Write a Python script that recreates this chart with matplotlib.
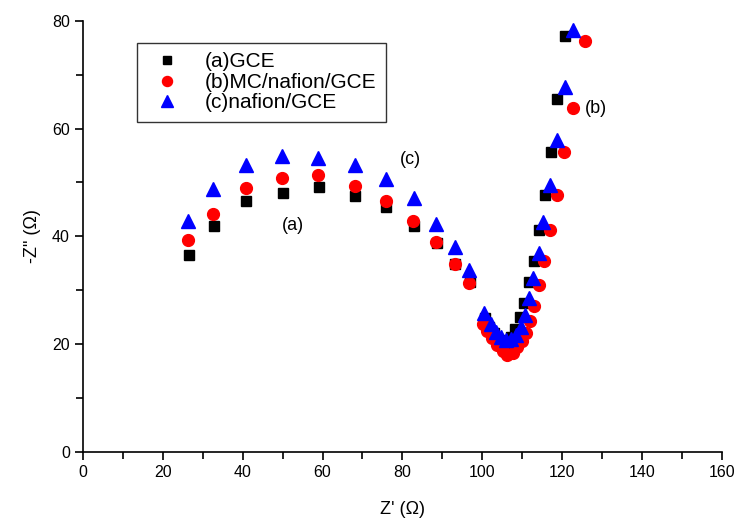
import matplotlib
matplotlib.use("Agg")
import matplotlib.pyplot as plt
from matplotlib.ticker import MultipleLocator

plt.rcParams['font.family'] = ['Liberation Sans', 'DejaVu Sans']

# (a) GCE
x_a = [26.5, 32.75, 40.75, 50.1, 59.0, 68.2, 76.0, 83.0, 88.6, 93.25, 96.9,
       100.75, 101.75, 103.0, 104.25, 105.5, 106.75, 107.3, 108.3, 109.4, 110.5,
       111.6, 113.0, 114.25, 115.6, 117.1, 118.8, 120.75]
y_a = [36.6, 41.9, 46.5, 48.1, 49.2, 47.5, 45.4, 41.9, 38.7, 34.9, 31.6,
       24.8, 23.2, 22.0, 20.8, 19.9, 19.9, 21.3, 22.8, 25.0, 27.7,
       31.5, 35.5, 41.2, 47.7, 55.6, 65.5, 77.2]

# (b) MC/nafion/GCE
x_b = [26.3, 32.6, 40.7, 49.9, 58.8, 68.2, 75.9, 82.75, 88.4, 93.25, 96.75,
       100.1, 101.3, 102.5, 103.75, 105.1, 106.3, 107.6, 108.8, 109.9, 110.9,
       111.9, 112.9, 114.25, 115.5, 117.0, 118.8, 120.4, 122.75, 125.75]
y_b = [39.3, 44.2, 48.9, 50.9, 51.3, 49.4, 46.6, 42.9, 39.0, 34.8, 31.3,
       23.7, 22.4, 21.2, 19.9, 18.7, 18.0, 18.3, 19.4, 20.6, 22.0,
       24.3, 27.0, 31.0, 35.5, 41.1, 47.7, 55.6, 63.9, 76.3]

# (c) nafion/GCE
x_c = [26.3, 32.6, 40.7, 49.9, 58.8, 68.2, 75.9, 82.9, 88.5, 93.2, 96.75,
       100.5, 102.2, 103.4, 104.7, 105.9, 107.2, 108.4, 109.6, 110.7, 111.75,
       112.8, 114.25, 115.3, 117.0, 118.8, 120.75, 122.75]
y_c = [42.9, 48.7, 53.2, 55.0, 54.6, 53.2, 50.7, 47.1, 42.3, 38.0, 33.8,
       25.7, 23.7, 22.3, 21.4, 20.8, 20.9, 21.7, 23.2, 25.4, 28.5,
       32.2, 36.9, 42.7, 49.5, 57.9, 67.8, 78.3]

labels = ['(a)GCE', '(b)MC/nafion/GCE', '(c)nafion/GCE']

fig = plt.figure(figsize=(7.38, 5.2), dpi=100)
ax = fig.add_axes([0.1125, 0.131, 0.8655, 0.829])

ax.plot(x_a, y_a, 's', color='black', markersize=7.5, label=labels[0], zorder=3)
ax.plot(x_b, y_b, 'o', color='red', markersize=8.5, label=labels[1], zorder=4)
ax.plot(x_c, y_c, '^', color='blue', markersize=9.5, label=labels[2], zorder=5)

ax.set_xlim(0, 160)
ax.set_ylim(0, 80)
ax.xaxis.set_major_locator(MultipleLocator(20))
ax.xaxis.set_minor_locator(MultipleLocator(10))
ax.yaxis.set_major_locator(MultipleLocator(20))
ax.yaxis.set_minor_locator(MultipleLocator(10))
ax.tick_params(which='major', direction='out', length=6, width=1.2, labelsize=11.5)
ax.tick_params(which='minor', direction='out', length=5, width=1.2)

ax.spines['top'].set_visible(False)
ax.spines['right'].set_visible(False)
ax.spines['left'].set_linewidth(1.2)
ax.spines['bottom'].set_linewidth(1.2)

ax.set_xlabel("Z' (\u03a9)", fontsize=13, labelpad=15)
ax.set_ylabel('-Z" (\u03a9)', fontsize=13, labelpad=8)

ax.text(52.5, 42, '(a)', fontsize=13, ha='center', va='center')
ax.text(128.5, 63.8, '(b)', fontsize=13, ha='center', va='center')
ax.text(82, 54.2, '(c)', fontsize=13, ha='center', va='center')

leg = ax.legend(loc='upper left', bbox_to_anchor=(0.0845, 0.949), borderaxespad=0,
                fontsize=15, frameon=True, fancybox=False, edgecolor='black',
                handletextpad=0.8, labelspacing=0.08, borderpad=0.45,
                handlelength=2.0, markerscale=0.85)
leg.get_frame().set_linewidth(1.0)

fig.savefig('out.png', dpi=100)
